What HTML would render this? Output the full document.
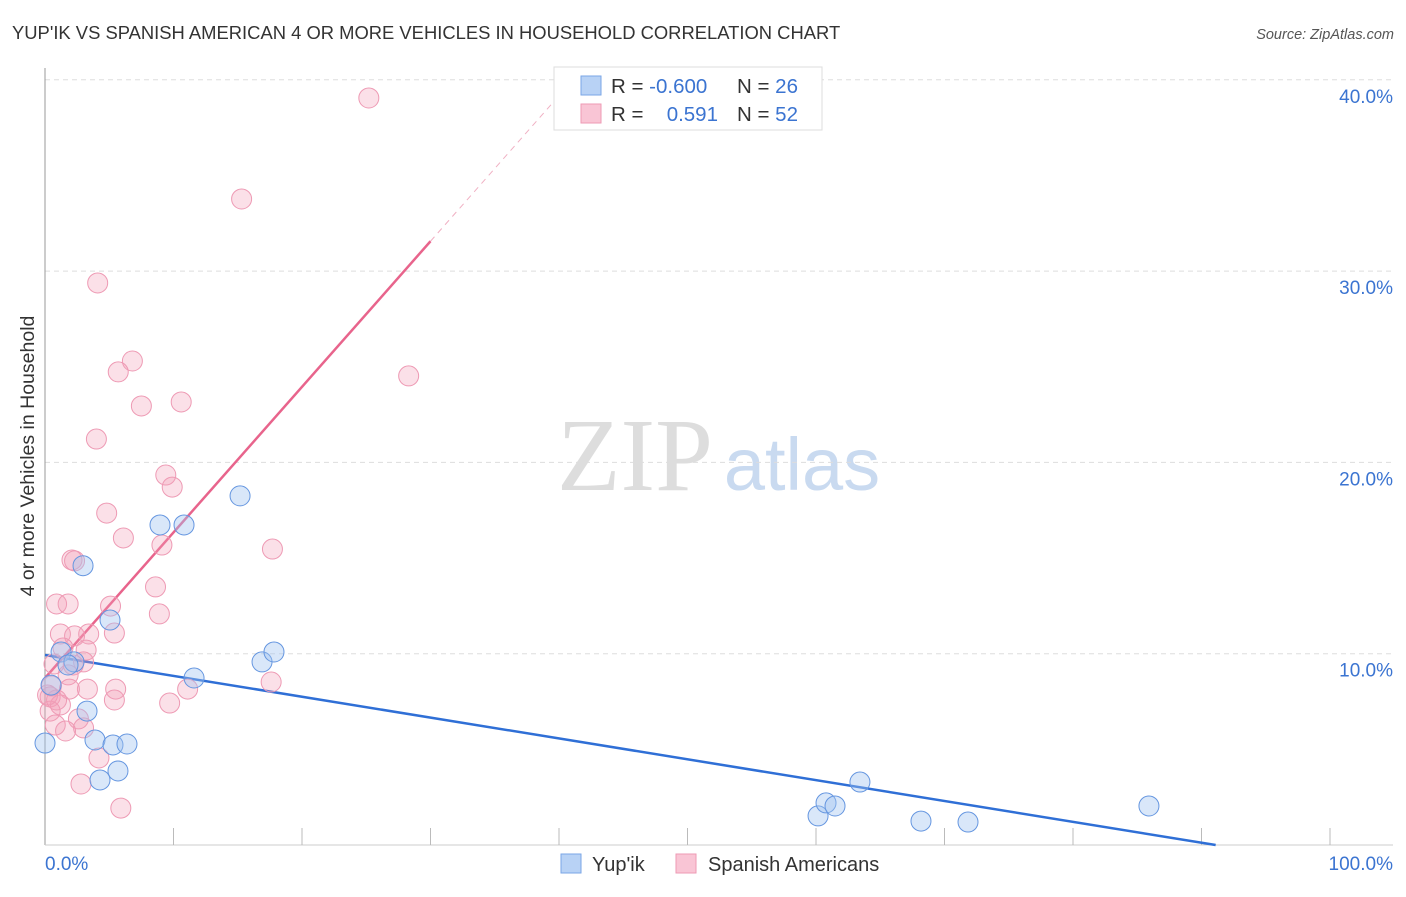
<!DOCTYPE html>
<html><head><meta charset="utf-8"><style>
body{margin:0;background:#fff;font-family:"Liberation Sans",sans-serif}
svg text{font-family:"Liberation Sans",sans-serif}
</style></head><body>
<svg id="chart" width="1406" height="892" xmlns="http://www.w3.org/2000/svg">
<text x="12" y="39" font-size="18.4" fill="#333">YUP'IK VS SPANISH AMERICAN 4 OR MORE VEHICLES IN HOUSEHOLD CORRELATION CHART</text>
<text x="1394" y="39" font-size="14.5" fill="#555" text-anchor="end" font-style="italic">Source: ZipAtlas.com</text>
<text x="34" y="456" font-size="19.5" fill="#333" text-anchor="middle" transform="rotate(-90 34 456)">4 or more Vehicles in Household</text>
<g>
<text x="635" y="490" font-size="104" fill="#ddd" text-anchor="middle" font-family="Liberation Serif" style="font-family:'Liberation Serif',serif">ZIP</text>
<text x="802" y="490" font-size="74" fill="#c9daf0" text-anchor="middle">atlas</text>
</g>
<g id="grid"></g><g id="axes"></g><g id="lines"></g><g id="pts"></g>
<g>
<rect x="554" y="67" width="268" height="63" fill="#fff" stroke="#ddd"/>
<rect x="581" y="76" width="20" height="19" fill="#b8d2f5" stroke="#7aa6e6"/>
<rect x="581" y="104" width="20" height="19" fill="#f9c5d5" stroke="#ee9ab4"/>
<text x="611" y="93" font-size="20.5" fill="#333">R = <tspan fill="#3b74d1">-0.600</tspan></text>
<text x="737" y="93" font-size="20.5" fill="#333">N = <tspan fill="#3b74d1">26</tspan></text>
<text x="611" y="121" font-size="20.5" fill="#333">R = </text>
<text x="718" y="121" font-size="20.5" fill="#3b74d1" text-anchor="end">0.591</text>
<text x="737" y="121" font-size="20.5" fill="#333">N = <tspan fill="#3b74d1">52</tspan></text>
</g>
<g>
<rect x="561" y="854" width="20" height="19" fill="#b8d2f5" stroke="#7aa6e6"/>
<text x="592" y="871" font-size="20" fill="#333">Yup'ik</text>
<rect x="676" y="854" width="20" height="19" fill="#f9c5d5" stroke="#ee9ab4"/>
<text x="708" y="871" font-size="20" fill="#333">Spanish Americans</text>
</g>
</svg>
<script>
const yTicks=[10,20,30,40];
const yTickLabels=["10.0%","20.0%","30.0%","40.0%"];
const xTickCount=10;
const blueX=[0,1.25,2.26,2.96,3.27,3.89,4.28,5.06,5.29,5.68,6.38,8.95,10.82,11.6,15.18,16.89,17.82,60.16,60.78,61.48,63.42,68.17,71.83,85.91,1.79,0.47];
const blueY=[5.33,10.09,9.57,14.6,7.0,5.49,3.40,11.76,5.23,3.87,5.28,16.73,16.73,8.73,18.25,9.57,10.09,1.52,2.2,2.04,3.29,1.25,1.2,2.04,9.41,8.36];
const pinkX=[25.2,15.3,4.1,6.8,5.7,28.3,7.5,10.6,4.0,9.4,9.9,4.8,6.1,9.1,17.7,2.1,2.3,8.6,0.9,1.8,5.1,8.9,1.2,2.3,3.4,5.4,3.2,1.4,3.0,0.7,1.8,2.2,0.5,3.3,1.9,5.5,11.1,17.6,0.4,1.2,5.4,9.7,0.4,0.8,2.6,3.0,1.6,4.2,2.8,5.9,0.2,0.9];
const pinkY=[39.05,33.77,29.38,25.30,24.73,24.52,22.95,23.16,21.22,19.34,18.71,17.35,16.05,15.68,15.47,14.90,14.85,13.49,12.60,12.60,12.49,12.08,11.03,10.93,11.03,11.08,10.19,10.30,9.57,9.46,8.89,9.41,8.31,8.15,8.15,8.15,8.15,8.52,7.74,7.32,7.58,7.42,7.00,6.27,6.59,6.12,5.96,4.55,3.19,1.93,7.84,7.58];
const blueFit=[9.93,-0.109];
const pinkFit=[8.73,0.761];
const NS="http://www.w3.org/2000/svg";
const X=v=>45+v*12.85, Y=v=>845-v*19.13;
function mk(t,a,p){const e=document.createElementNS(NS,t);for(const k in a)e.setAttribute(k,a[k]);document.getElementById(p).appendChild(e);return e;}
yTicks.forEach((t,i)=>{
 const g=mk('line',{x1:45,x2:1393,y1:Y(t),y2:Y(t),stroke:'#ddd','stroke-dasharray':'5,4'},'grid');
 
 
 const l=mk('text',{x:1393,y:Y(t)+23,'font-size':19,fill:'#3b74d1','text-anchor':'end'},'grid');l.textContent=yTickLabels[i];
 
 
});
mk('line',{x1:45,x2:45,y1:68,y2:845,stroke:'#999'},'axes');
mk('line',{x1:45,x2:1393,y1:845,y2:845,stroke:'#ccc'},'axes');
for(let i=1;i<=xTickCount;i++){const t=mk('line',{x1:X(i*10),x2:X(i*10),y1:828,y2:845,stroke:'#bbb'},'axes');
 
 }
let a=mk('text',{x:45,y:870,'font-size':19,fill:'#3b74d1'},'axes');a.textContent='0.0%';


a=mk('text',{x:1393,y:870,'font-size':19,fill:'#3b74d1','text-anchor':'end'},'axes');a.textContent='100.0%';


const bx2=-blueFit[0]/blueFit[1];
let ln=mk('line',{x1:X(0),y1:Y(blueFit[0]),x2:X(bx2),y2:Y(0),stroke:'#2f6fd6','stroke-width':2.5},'lines');


ln=mk('line',{x1:X(0),y1:Y(pinkFit[0]),x2:X(30),y2:Y(pinkFit[0]+30*pinkFit[1]),stroke:'#e8648c','stroke-width':2.5},'lines');


const xe=(40.5-pinkFit[0])/pinkFit[1];
ln=mk('line',{x1:X(30),y1:Y(pinkFit[0]+30*pinkFit[1]),x2:X(xe),y2:Y(40.5),stroke:'#f0b0c3','stroke-width':1,'stroke-dasharray':'6,5'},'lines');


pinkX.forEach((x,i)=>{const c=mk('circle',{cx:X(x),cy:Y(pinkY[i]),r:10,fill:'rgba(244,160,185,0.32)',stroke:'#ee9ab4','stroke-width':1},'pts');
 
 });
blueX.forEach((x,i)=>{const c=mk('circle',{cx:X(x),cy:Y(blueY[i]),r:10,fill:'rgba(160,195,240,0.4)',stroke:'#6596e0','stroke-width':1},'pts');
 
 });
</script>
</body></html>
